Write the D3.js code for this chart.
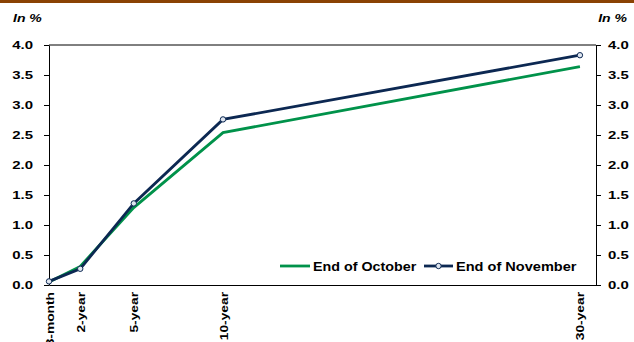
<!DOCTYPE html>
<html>
<head>
<meta charset="utf-8">
<script src="https://cdn.jsdelivr.net/npm/d3@7"></script>
<style>
  html, body { margin: 0; padding: 0; background: #fff; }
  svg { display: block; font-family: "Liberation Sans", Arial, sans-serif; }
</style>
</head>
<body>
<svg id="chart" width="634" height="342"></svg>
<script>
// Maturities (in years) and their labels
const maturities = [0.25, 2, 5, 10, 30];
const maturityLabels = ["3-month", "2-year", "5-year", "10-year", "30-year"];

// Yields, in %
const endOfOctober = [0.05, 0.31, 1.29, 2.54, 3.64];
const endOfNovember = [0.06, 0.27, 1.36, 2.76, 3.83];

const seriesNames = ["End of October", "End of November"];
const yTicks = [0.0, 0.5, 1.0, 1.5, 2.0, 2.5, 3.0, 3.5, 4.0];

const svg = d3.select("#chart");
const plotLeft = 49, plotRight = 596, plotTop = 45, plotBottom = 285;
const FONT = "Liberation Sans, Arial, sans-serif";
const wide = 1.3; // horizontal stretch of the wide label face

const x = d3.scaleLinear().domain([0.25, 30.9]).range([plotLeft, plotRight]);
const y = d3.scaleLinear().domain([0, 4]).range([plotBottom, plotTop]);

// Brown band along the top edge
svg.append("rect").attr("x", 0).attr("y", 0).attr("width", 634).attr("height", 3)
  .attr("fill", "#8a4204");

// Unit captions
svg.append("text").attr("transform", "translate(13,22) scale(1.22,1)").text("In %")
  .attr("font-size", 11.5).attr("font-weight", "bold").attr("font-style", "italic");
svg.append("text").attr("transform", "translate(627,22) scale(1.22,1)")
  .attr("text-anchor", "end").text("In %")
  .attr("font-size", 11.5).attr("font-weight", "bold").attr("font-style", "italic");

// Left and right value axes
const axisL = d3.axisLeft(y).tickValues(yTicks).tickFormat(d3.format(".1f")).tickSizeInner(5).tickSizeOuter(0).tickPadding(10);
const axisR = d3.axisRight(y).tickValues(yTicks).tickFormat(d3.format(".1f")).tickSizeInner(5).tickSizeOuter(0).tickPadding(9);

function styleAxis(g, side) {
  g.selectAll("path, line").attr("stroke", "#000").attr("stroke-width", 1);
  g.selectAll("text").attr("font-size", 11.5).attr("font-weight", "bold")
    .attr("font-family", FONT).attr("fill", "#000")
    .attr("x", side * 16 / wide)
    .attr("transform", `scale(${wide},1)`);
}
svg.append("g").attr("transform", `translate(${plotLeft},0)`).call(axisL).call(styleAxis, -1);
svg.append("g").attr("transform", `translate(${plotRight},0)`).call(axisR).call(styleAxis, 0.75);

// Top frame line and bottom category axis
svg.append("line").attr("x1", plotLeft).attr("x2", plotRight).attr("y1", y(4)).attr("y2", y(4))
  .attr("stroke", "#000").attr("stroke-width", 1);
const axisB = d3.axisBottom(x).tickValues(maturities)
  .tickFormat((d, i) => maturityLabels[i]).tickSize(0).tickPadding(0);
const gB = svg.append("g").attr("transform", `translate(0,${plotBottom})`).call(axisB);
gB.select(".domain").attr("stroke", "#000").attr("stroke-width", 1.2);
gB.selectAll("text")
  .attr("font-size", 11.5).attr("font-weight", "bold").attr("fill", "#000")
  .attr("font-family", FONT)
  .attr("text-anchor", "end")
  .attr("transform", "rotate(-90) scale(1.2,1)")
  .attr("x", -7 / 1.2).attr("y", 0).attr("dy", "0.35em");

// Yield curves
const line = d3.line().x((d, i) => x(maturities[i])).y(d => y(d));
const colors = ["#00924a", "#0c2852"];

svg.append("path").datum(endOfOctober).attr("d", line)
  .attr("fill", "none").attr("stroke", colors[0]).attr("stroke-width", 2.8);
svg.append("path").datum(endOfNovember).attr("d", line)
  .attr("fill", "none").attr("stroke", colors[1]).attr("stroke-width", 2.8);
svg.selectAll("circle.nov").data(endOfNovember).enter().append("circle")
  .attr("class", "nov")
  .attr("cx", (d, i) => x(maturities[i])).attr("cy", d => y(d)).attr("r", 2.7)
  .attr("fill", "#dfe6f0").attr("stroke", colors[1]).attr("stroke-width", 1);

// Legend
const legY = 266;
const leg = svg.append("g");
leg.append("line").attr("x1", 280).attr("x2", 310).attr("y1", legY).attr("y2", legY)
  .attr("stroke", colors[0]).attr("stroke-width", 2.8);
leg.append("text").attr("transform", `translate(313,${legY + 4.7}) scale(1.1,1)`).text(seriesNames[0])
  .attr("font-size", 13).attr("font-weight", "bold");
leg.append("line").attr("x1", 424).attr("x2", 453).attr("y1", legY).attr("y2", legY)
  .attr("stroke", colors[1]).attr("stroke-width", 2.8);
leg.append("circle").attr("cx", 438.5).attr("cy", legY).attr("r", 2.7)
  .attr("fill", "#dfe6f0").attr("stroke", colors[1]).attr("stroke-width", 1);
leg.append("text").attr("transform", `translate(456,${legY + 4.7}) scale(1.12,1)`).text(seriesNames[1])
  .attr("font-size", 13).attr("font-weight", "bold");
</script>
</body>
</html>
